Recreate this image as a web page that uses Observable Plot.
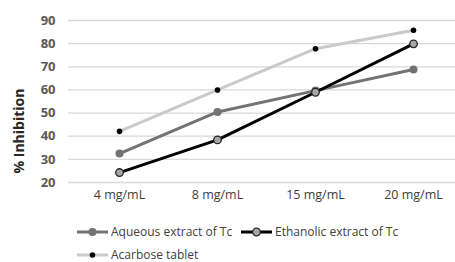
<!DOCTYPE html>
<html>
<head>
<meta charset="utf-8">
<script src="https://cdn.jsdelivr.net/npm/d3@7"></script>
<script src="https://cdn.jsdelivr.net/npm/@observablehq/plot@0.6"></script>
<style>
  html, body { margin: 0; padding: 0; background: #fff; overflow: hidden; }
  body { width: 455px; height: 262px; position: relative; font-family: "Open Sans", sans-serif; }
  #chart { position: absolute; left: 0; top: 0; }
  #ylabel { position: absolute; left: 18px; top: 131px; transform: translate(-50%, -50%) rotate(-90deg);
            font-weight: bold; font-size: 14px; color: #262626; white-space: nowrap; }
  .leg { position: absolute; display: flex; align-items: center; font-size: 12px; line-height: 14px; color: #404040; white-space: nowrap; }
  .leg svg { margin-right: 2px; }
</style>
</head>
<body>
<div id="chart"></div>
<div id="ylabel">% Inhibition</div>
<div id="legend"></div>
<script>
const categories = ["4 mg/mL", "8 mg/mL", "15 mg/mL", "20 mg/mL"];
const seriesNames = ["Aqueous extract of Tc", "Ethanolic extract of Tc", "Acarbose tablet"];
const aqueous = [32.5, 50.5, 59.7, 68.8];
const ethanolic = [24.3, 38.4, 59.0, 79.9];
const acarbose = [42.1, 60.0, 77.8, 85.8];
const yTicks = [20, 30, 40, 50, 60, 70, 80, 90];

const styles = {
  "Aqueous extract of Tc": {line: "#737373", width: 3, r: 4, fill: "#737373", stroke: "#737373", sw: 0},
  "Ethanolic extract of Tc": {line: "#000000", width: 3, r: 3.8, fill: "#a6a6a6", stroke: "#262626", sw: 1.3},
  "Acarbose tablet": {line: "#cacaca", width: 3, r: 2.8, fill: "#000000", stroke: "#000000", sw: 0}
};
const valuesBySeries = [aqueous, ethanolic, acarbose];
const data = seriesNames.flatMap((s, i) => categories.map((c, j) => ({series: s, cat: c, value: valuesBySeries[i][j]})));

const marks = [
  Plot.ruleY(yTicks, {stroke: "#d9d9d9", strokeWidth: 1.3}),
  Plot.axisY(yTicks, {tickSize: 0, tickPadding: 13, fontSize: 13, fontWeight: "bold", fill: "#595959", label: null}),
  Plot.axisX({tickSize: 0, tickPadding: 8, fontSize: 12.5, fill: "#404040", label: null})
];
for (const s of seriesNames) {
  const st = styles[s];
  const d = data.filter(r => r.series === s);
  marks.push(Plot.line(d, {x: "cat", y: "value", stroke: st.line, strokeWidth: st.width}));
  marks.push(Plot.dot(d, {x: "cat", y: "value", r: st.r, fill: st.fill, stroke: st.stroke, strokeWidth: st.sw}));
}

const chart = Plot.plot({
  width: 455,
  height: 205,
  marginLeft: 68,
  marginRight: -8,
  marginTop: 20,
  marginBottom: 23,
  style: {fontFamily: "Open Sans, sans-serif", background: "transparent"},
  x: {type: "point", domain: categories, padding: 0.5},
  y: {domain: [20, 90]},
  marks
});
document.getElementById("chart").appendChild(chart);

// legend
const legPos = [[76, 232], [240, 232], [76, 255]];
const legend = document.getElementById("legend");
seriesNames.forEach((s, i) => {
  const st = styles[s];
  const div = document.createElement("div");
  div.className = "leg";
  div.style.left = legPos[i][0] + "px";
  div.style.top = (legPos[i][1] - 7) + "px";
  div.innerHTML = `<svg width="33" height="14"><line x1="1" x2="32" y1="7" y2="7" stroke="${st.line}" stroke-width="${st.width}"/>` +
    `<circle cx="16.5" cy="7" r="${st.r}" fill="${st.fill}" stroke="${st.stroke}" stroke-width="${st.sw}"/></svg><span>${s}</span>`;
  legend.appendChild(div);
});
</script>
</body>
</html>
